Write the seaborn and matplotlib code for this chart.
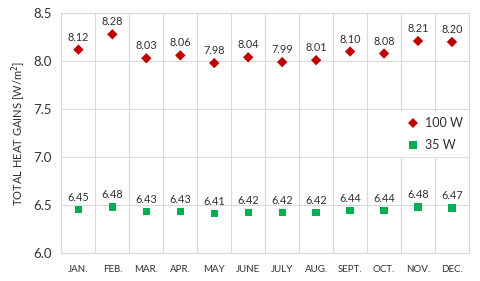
import matplotlib
matplotlib.use("Agg")
import matplotlib.pyplot as plt
import numpy as np
import pandas as pd
import seaborn as sns

months = ["JAN.", "FEB.", "MAR.", "APR.", "MAY", "JUNE", "JULY", "AUG.",
          "SEPT.", "OCT.", "NOV.", "DEC."]
gains_100w = [8.12, 8.28, 8.03, 8.06, 7.98, 8.04, 7.99, 8.01, 8.10, 8.08, 8.21, 8.20]
gains_35w = [6.45, 6.48, 6.43, 6.43, 6.41, 6.42, 6.42, 6.42, 6.44, 6.44, 6.48, 6.47]
series = ["100 W", "35 W"]
colors = {"100 W": "#C00000", "35 W": "#00B050"}
markers = {"100 W": "D", "35 W": "s"}

df = pd.DataFrame({
    "month": months * 2,
    "pos": list(range(len(months))) * 2,
    "gain": gains_100w + gains_35w,
    "series": [series[0]] * 12 + [series[1]] * 12,
})

sns.set_style("white")
plt.rcParams["font.family"] = ["Lato", "DejaVu Sans"]

fig, ax = plt.subplots(figsize=(4.8, 2.81), dpi=100)
fig.subplots_adjust(left=0.128, right=0.977, top=0.953, bottom=0.1)

sns.scatterplot(data=df, x="pos", y="gain", hue="series", style="series",
                palette=colors, markers=markers, s=28, linewidth=0, ax=ax,
                zorder=3)

for _, r in df.iterrows():
    ax.annotate(f"{r['gain']:.2f}", (r["pos"], r["gain"]), xytext=(0, 5),
                textcoords="offset points", ha="center", va="bottom",
                fontsize=7.8, color="#303030")

ax.set_xlim(-0.5, 11.5)
ax.set_ylim(6.0, 8.5)
ax.set_yticks(np.arange(6.0, 8.51, 0.5))
ax.set_yticklabels([f"{v:.1f}" for v in np.arange(6.0, 8.51, 0.5)], fontsize=9.5,
                   color="#303030")
ax.set_xticks(range(len(months)))
ax.set_xticklabels(months, fontsize=7, color="#303030")
ax.set_xticks(np.arange(0.5, 11.5, 1), minor=True)
ax.tick_params(axis="both", which="both", length=0)
ax.tick_params(axis="x", pad=9)
ax.tick_params(axis="y", pad=7)
ax.grid(axis="y", which="major", color="#D9D9D9", linewidth=0.8)
ax.grid(axis="x", which="minor", color="#D9D9D9", linewidth=0.8)
for sp in ax.spines.values():
    sp.set_color("#D9D9D9")
    sp.set_linewidth(0.8)

ax.set_xlabel("")
ax.set_ylabel("TOTAL HEAT GAINS [W/m$^2$]", fontsize=8, color="#303030")

leg = ax.legend(loc="center right", bbox_to_anchor=(1.0, 0.495), frameon=True,
                fontsize=9, handletextpad=0.1, handlelength=1.6,
                labelspacing=0.8, borderaxespad=0.1, markerscale=1.0)
leg.get_frame().set_edgecolor("white")
leg.get_frame().set_facecolor("white")
leg.get_frame().set_alpha(1)
for t in leg.get_texts():
    t.set_color("#303030")

fig.savefig("out.png", dpi=100)
